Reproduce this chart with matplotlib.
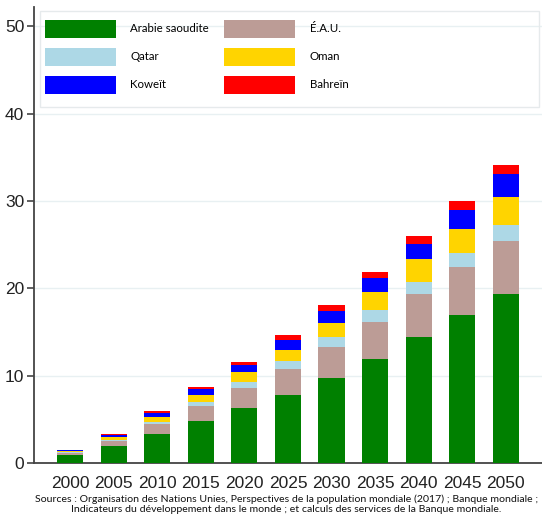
import matplotlib
matplotlib.use("Agg")
import matplotlib.pyplot as plt
from matplotlib.patches import Rectangle
import numpy as np

years = ["2000", "2005", "2010", "2015", "2020", "2025", "2030", "2035", "2040", "2045", "2050"]
arabie_saoudite = [0.95, 2.0, 3.3, 4.76, 6.25, 7.8, 9.7, 11.9, 14.4, 16.9, 19.4]
eau = [0.2, 0.57, 1.22, 1.76, 2.33, 2.95, 3.6, 4.27, 4.9, 5.5, 6.0]
qatar = [0.07, 0.12, 0.23, 0.46, 0.64, 0.88, 1.07, 1.34, 1.45, 1.67, 1.8]
oman = [0.15, 0.23, 0.57, 0.8, 1.15, 1.33, 1.68, 2.06, 2.55, 2.74, 3.25]
koweit = [0.1, 0.27, 0.46, 0.69, 0.84, 1.15, 1.37, 1.64, 1.75, 2.2, 2.6]
bahrein = [0.05, 0.17, 0.19, 0.26, 0.38, 0.5, 0.62, 0.69, 0.88, 0.96, 1.05]

series = [
    ("Arabie saoudite", arabie_saoudite, "#008000"),
    ("É.A.U.", eau, "#bc9c96"),
    ("Qatar", qatar, "#add8e6"),
    ("Oman", oman, "#ffd400"),
    ("Koweït", koweit, "#0000ff"),
    ("Bahreïn", bahrein, "#ff0000"),
]
legend_order = ["Arabie saoudite", "Qatar", "Koweït", "É.A.U.", "Oman", "Bahreïn"]
source_text = ("Sources : Organisation des Nations Unies, Perspectives de la population mondiale (2017) ; Banque mondiale ;\n"
               "Indicateurs du développement dans le monde ; et calculs des services de la Banque mondiale.")

plt.rcParams['font.family'] = ['Liberation Sans', 'DejaVu Sans']

fig = plt.figure(figsize=(5.42, 5.16), dpi=100)
ax = fig.add_axes([0.0627, 0.1027, 0.9373, 0.8838])

x = np.arange(len(years))
bottom = np.zeros(len(years))
handles = {}
for name, vals, color in series:
    vals = np.array(vals)
    b = ax.bar(x, vals, width=0.6, bottom=bottom, color=color, label=name,
               edgecolor='none', zorder=3)
    handles[name] = b
    bottom += vals

ax.set_xlim(-0.83, len(years) - 1 + 0.83)
ax.set_ylim(0, 52.2)
ax.set_yticks([0, 10, 20, 30, 40, 50])
ax.set_xticks(x)
ax.set_xticklabels(years)
ax.tick_params(axis='x', length=0, labelsize=12.5, pad=9, colors='#222222')
ax.tick_params(axis='y', length=5, width=1.2, labelsize=12.5, colors='#444444', labelcolor='#222222', pad=2)
for s in ['top', 'right']:
    ax.spines[s].set_visible(False)
for s in ['left', 'bottom']:
    ax.spines[s].set_color('#444444')
    ax.spines[s].set_linewidth(1.3)
ax.yaxis.grid(True, color='#e8f0f2', linewidth=1.0, zorder=0)
ax.set_axisbelow(True)

leg = ax.legend([handles[n] for n in legend_order], legend_order, ncol=2,
                loc='upper left', bbox_to_anchor=(0.005, 0.99), frameon=False,
                prop={'family': 'Lato', 'size': 8.3},
                handlelength=6.2, handleheight=2.05, labelspacing=0.85,
                handletextpad=1.25, columnspacing=1.25, borderaxespad=0.3)
ax.add_patch(Rectangle((0.012, 0.78), 0.983, 0.212, transform=ax.transAxes,
                       fill=False, edgecolor='#e6eaec', linewidth=1.0, zorder=1))

fig.text(0.528, 0.004, source_text, ha='center', va='bottom', fontsize=7.55,
         family='Lato', linespacing=1.15, color='#111111')

fig.savefig("out.png", dpi=100)
